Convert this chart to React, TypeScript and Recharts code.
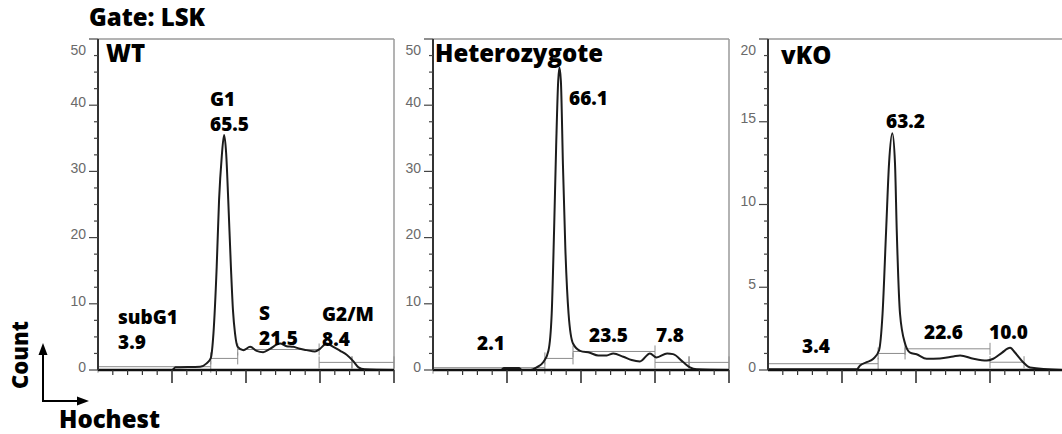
import React from 'react';
import { LineChart, Line, XAxis, YAxis, ReferenceLine } from 'recharts';

// ---------- data ----------
const wtChannel = [0, 250, 262, 345, 367, 381, 390, 401, 409, 418, 426, 433, 440, 449, 456, 463, 472, 491, 514, 536, 558, 581, 615, 637, 660, 682, 705, 733, 750, 772, 795, 818, 840, 863, 880, 900, 1000];
const wtCount = [0, 0, 0.4, 0.5, 1.0, 1.8, 5.5, 15.6, 25.7, 32.2, 35.5, 32.7, 25.7, 15.6, 9, 5.5, 3.5, 3.0, 3.5, 2.9, 2.7, 3.2, 4.0, 3.6, 3.5, 3.2, 3.0, 2.8, 3.2, 4.0, 3.5, 2.9, 2.3, 1.3, 0.4, 0.1, 0];

const hetChannel = [0, 230, 240, 290, 300, 330, 350, 373, 390, 401, 409, 416, 423, 427, 432, 439, 447, 458, 473, 497, 530, 558, 587, 609, 643, 671, 699, 733, 755, 791, 811, 845, 868, 890, 1000];
const hetCount = [0, 0, 0.3, 0.3, 0, 0, 0.4, 1.2, 2.9, 8.5, 21, 33.7, 43.7, 45.7, 43.7, 31, 18.5, 8.5, 4.0, 2.9, 2.6, 2.2, 2.2, 2.5, 2.0, 1.5, 1.3, 2.5, 1.9, 2.5, 2.4, 1.2, 0.4, 0.1, 0];

const vkoChannel = [0, 300, 311, 333, 356, 375, 387, 399, 409, 420, 429, 435, 446, 463, 480, 502, 536, 581, 626, 649, 694, 739, 761, 790, 818, 835, 862, 885, 1000];
const vkoCount = [0.05, 0.05, 0.27, 0.47, 0.68, 1.18, 3.4, 8.4, 12.5, 14.3, 12.5, 8.4, 3.4, 1.6, 1.05, 0.95, 0.68, 0.7, 0.82, 0.88, 0.68, 0.57, 0.68, 1.04, 1.34, 1.04, 0.47, 0.15, 0];

// gates: start, end, level (count units)
const wtGateFrom = [0, 381, 472, 747, 858];
const wtGateTo = [381, 472, 747, 858, 1000];
const wtGateLevel = [0.5, 1.75, 3.1, 1.15, 1.15];

const hetGateFrom = [0, 378, 473, 750, 865];
const hetGateTo = [378, 473, 750, 865, 1000];
const hetGateLevel = [0.35, 1.75, 2.8, 1.15, 1.15];

const vkoGateFrom = [0, 372, 463, 750];
const vkoGateTo = [372, 463, 750, 865];
const vkoGateLevel = [0.38, 1.0, 1.28, 0.47];

const panelTitles = ['WT', 'Heterozygote', 'vKO'];
const wtPhases = ['subG1', 'G1', 'S', 'G2/M'];
const wtPercents = ['3.9', '65.5', '21.5', '8.4'];
const hetPercents = ['2.1', '66.1', '23.5', '7.8'];
const vkoPercents = ['3.4', '63.2', '22.6', '10.0'];

const xMajorTicks = [250, 500, 750, 1000];

// ---------- styles ----------
const FONT = '"Open Sans", "Noto Sans", sans-serif';
const TICK_FONT = '"Liberation Sans", Arial, sans-serif';

const GateShape = (props: any) => {
  const { x1, y1, x2, y2 } = props;
  return (
    <g>
      <line x1={x1} y1={y1} x2={x2} y2={y2} stroke="#8c8c8c" strokeWidth={1} />
      <line x1={x1} y1={y1 - 6} x2={x1} y2={y1 + 6} stroke="#8c8c8c" strokeWidth={1} />
      <line x1={x2} y1={y2 - 6} x2={x2} y2={y2 + 6} stroke="#8c8c8c" strokeWidth={1} />
    </g>
  );
};

function Panel(props: {
  left: number;
  channel: number[];
  count: number[];
  yMax: number;
  yMajor: number;
  yMinor: number;
  gFrom: number[];
  gTo: number[];
  gLevel: number[];
}) {
  const { left, channel, count, yMax, yMajor, yMinor, gFrom, gTo, gLevel } = props;
  const data = channel.map((c, i) => ({ channel: c, count: count[i] }));
  const yTicks: number[] = [];
  for (let v = 0; v <= yMax + 1e-9; v += yMinor) yTicks.push(Math.round(v * 100) / 100);
  const xTicks: number[] = [];
  for (let v = 50; v <= 1000; v += 50) xTicks.push(v);

  const XTick = (p: any) => {
    const { x, y, payload } = p;
    const major = xMajorTicks.includes(payload.value);
    return (
      <line x1={x} x2={x} y1={y} y2={y + (major ? 13 : 5)} stroke="#333" strokeWidth={major ? 1.6 : 1.2} />
    );
  };
  const YTick = (p: any) => {
    const { x, y, payload } = p;
    const v = payload.value;
    const major = Math.abs(v / yMajor - Math.round(v / yMajor)) < 1e-6;
    const labelY = v >= yMax - 1e-6 ? y + 14 : y;
    return (
      <g>
        <line x1={x - (major ? 9 : 4)} x2={x} y1={y} y2={y} stroke="#444" strokeWidth={1.2} />
        {major && (
          <text x={x - 12} y={labelY - 2} textAnchor="end" dominantBaseline="middle" fontSize={14} fill="#6a6a6a" fontFamily={TICK_FONT}>
            {v}
          </text>
        )}
      </g>
    );
  };

  return (
    <div style={{ position: 'absolute', left, top: 0 }}>
      <LineChart width={400} height={434} data={data} margin={{ top: 39, right: 6, bottom: 44, left: 0 }}>
        <XAxis
          type="number"
          dataKey="channel"
          domain={[0, 1000]}
          ticks={xTicks}
          interval={0}
          height={20}
          tickSize={0}
          tickMargin={0}
          tickLine={false}
          axisLine={{ stroke: '#111', strokeWidth: 2.5 }}
          tick={XTick}
          allowDataOverflow
        />
        <YAxis
          type="number"
          domain={[0, yMax]}
          ticks={yTicks}
          interval={0}
          width={98}
          tickSize={0}
          tickMargin={0}
          tickLine={false}
          axisLine={{ stroke: '#333', strokeWidth: 2 }}
          tick={YTick}
          allowDataOverflow
        />
        <ReferenceLine y={yMax} stroke="#9a9a9a" strokeWidth={1.5} />
        <ReferenceLine x={1000} stroke="#9a9a9a" strokeWidth={1.5} />
        {gFrom.map((f, i) => (
          <ReferenceLine
            key={i}
            segment={[
              { x: f, y: gLevel[i] },
              { x: gTo[i], y: gLevel[i] },
            ]}
            stroke="#8c8c8c"
            shape={GateShape}
          />
        ))}
        <Line type="monotone" dataKey="count" stroke="#1c1c1c" strokeWidth={2} dot={false} isAnimationActive={false} />
      </LineChart>
    </div>
  );
}

export default function App() {
  const bold = { fontFamily: FONT, fontWeight: 800, fill: '#000' } as const;
  return (
    <div style={{ position: 'absolute', left: 0, top: 0, width: 1062, height: 434, overflow: 'hidden', background: '#fff' }}>
      <Panel left={0} channel={wtChannel} count={wtCount} yMax={50} yMajor={10} yMinor={2.5} gFrom={wtGateFrom} gTo={wtGateTo} gLevel={wtGateLevel} />
      <Panel left={335} channel={hetChannel} count={hetCount} yMax={50} yMajor={10} yMinor={2.5} gFrom={hetGateFrom} gTo={hetGateTo} gLevel={hetGateLevel} />
      <Panel left={670} channel={vkoChannel} count={vkoCount} yMax={20} yMajor={5} yMinor={1} gFrom={vkoGateFrom} gTo={vkoGateTo} gLevel={vkoGateLevel} />
      <svg width={1062} height={434} style={{ position: 'absolute', left: 0, top: 0, pointerEvents: 'none' }}>
        <text x={89} y={26} fontSize={24} {...bold}>Gate: LSK</text>
        {/* panel titles */}
        <text x={106} y={62} fontSize={24} {...bold}>{panelTitles[0]}</text>
        <text x={435} y={62} fontSize={24} {...bold}>{panelTitles[1]}</text>
        <text x={781} y={64} fontSize={24} {...bold}>{panelTitles[2]}</text>
        {/* WT labels (phase name over percentage) */}
        <text x={118} y={324} fontSize={19} {...bold}>{wtPhases[0]}</text>
        <text x={118} y={349} fontSize={19} {...bold}>{wtPercents[0]}</text>
        <text x={210} y={106} fontSize={19} {...bold}>{wtPhases[1]}</text>
        <text x={210} y={131} fontSize={19} {...bold}>{wtPercents[1]}</text>
        <text x={259} y={320} fontSize={19} {...bold}>{wtPhases[2]}</text>
        <text x={259} y={345} fontSize={19} {...bold}>{wtPercents[2]}</text>
        <text x={322} y={321} fontSize={19} {...bold}>{wtPhases[3]}</text>
        <text x={322} y={346} fontSize={19} {...bold}>{wtPercents[3]}</text>
        {/* Het labels */}
        <text x={477} y={350} fontSize={19} {...bold}>{hetPercents[0]}</text>
        <text x={569} y={105} fontSize={19} {...bold}>{hetPercents[1]}</text>
        <text x={589} y={342} fontSize={19} {...bold}>{hetPercents[2]}</text>
        <text x={656} y={342} fontSize={19} {...bold}>{hetPercents[3]}</text>
        {/* vKO labels */}
        <text x={802} y={353} fontSize={19} {...bold}>{vkoPercents[0]}</text>
        <text x={886} y={128} fontSize={19} {...bold}>{vkoPercents[1]}</text>
        <text x={924} y={339} fontSize={19} {...bold}>{vkoPercents[2]}</text>
        <text x={989} y={339} fontSize={19} {...bold}>{vkoPercents[3]}</text>
        {/* axis key */}
        <text transform="translate(28,389) rotate(-90)" fontSize={22} {...bold}>Count</text>
        <line x1={43} y1={401} x2={43} y2={352} stroke="#000" strokeWidth={2} />
        <polygon points="43,343 38.5,355 47.5,355" fill="#000" />
        <line x1={42} y1={401} x2={80} y2={401} stroke="#000" strokeWidth={2} />
        <polygon points="89,401 77,396.5 77,405.5" fill="#000" />
        <text x={59} y={428} fontSize={24} {...bold}>Hochest</text>
      </svg>
    </div>
  );
}
